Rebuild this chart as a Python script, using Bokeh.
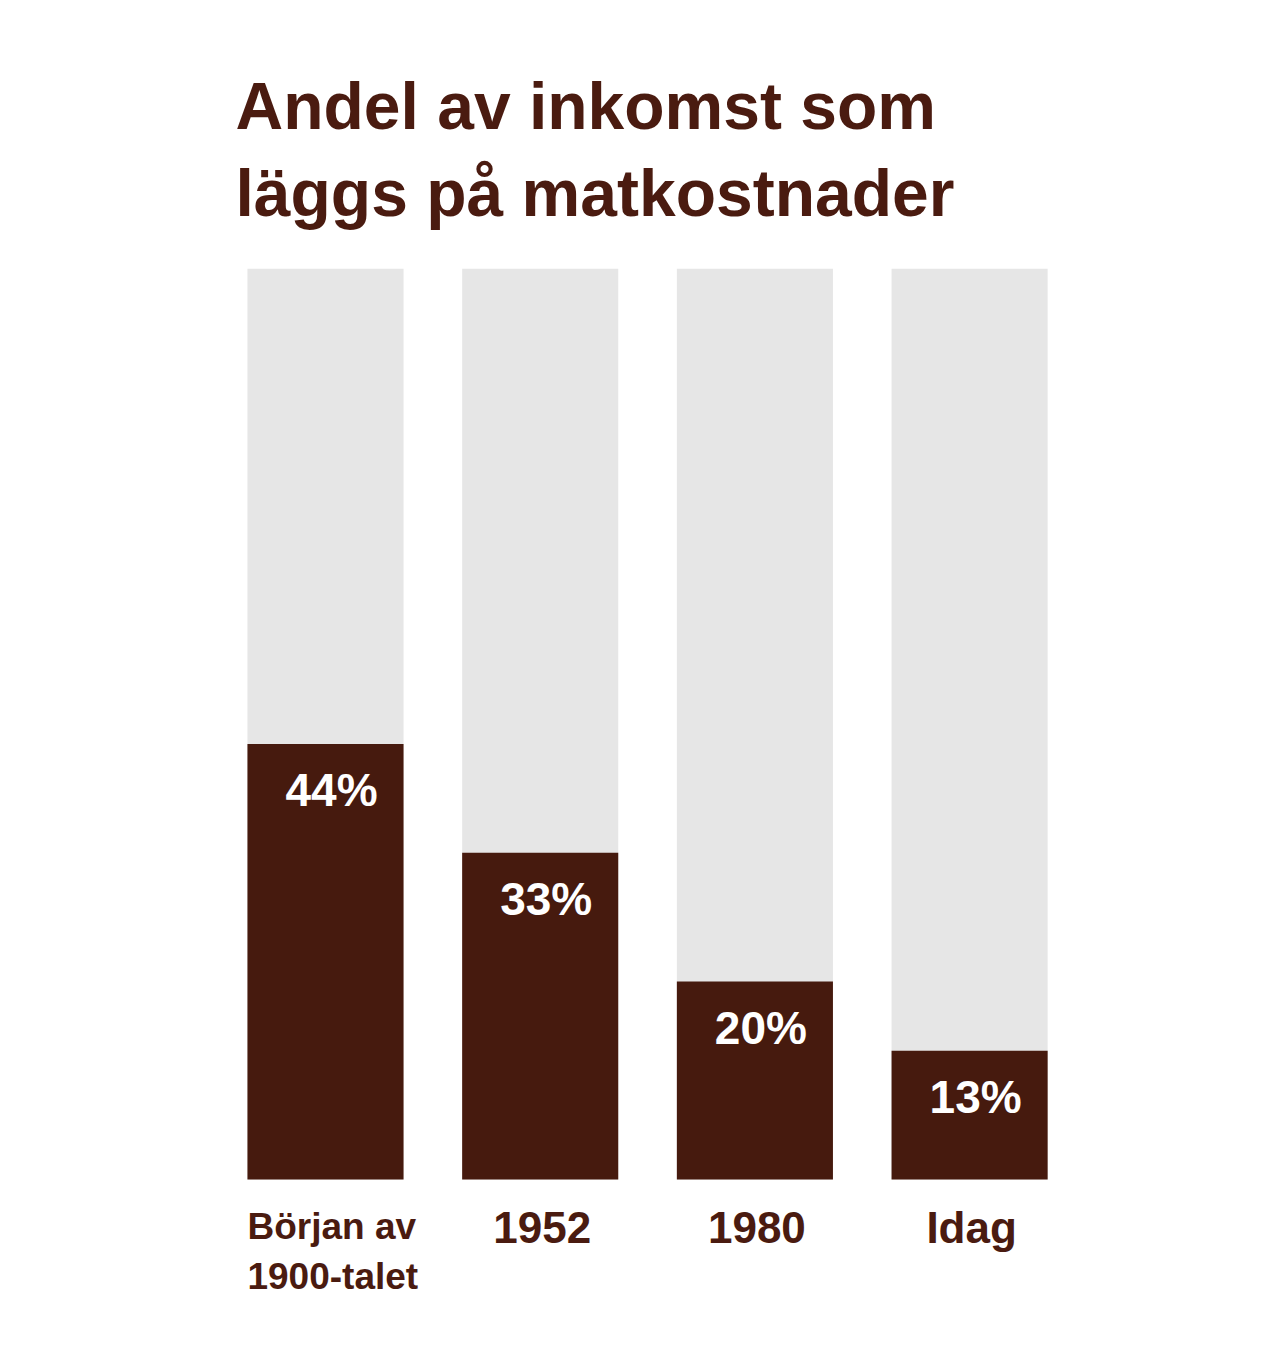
from bokeh.plotting import figure
from bokeh.models import Range1d, ColumnDataSource, Label
from bokeh.core.properties import value
from bokeh.embed import file_html
from bokeh.resources import INLINE

# ---- data ----
categories = ["Början av\n1900-talet", "1952", "1980", "Idag"]
shares = [44, 33, 20, 13]          # percent of income spent on food
totals = [92, 92, 92, 92]          # grey background column height (as drawn)
share_labels = ["44%", "33%", "20%", "13%"]

W, H = 1268, 1340
DARK = "#461a0e"
TEXT = "#4a1b10"
GREY = "#e6e6e6"
FONT = "Liberation Sans"

px_per_x = 214.7
x0_px = 325.0
xs = 0 - x0_px / px_per_x
px_per_y = 9.9
y0_px = H - 1179.0
ys = 0 - y0_px / px_per_y

p = figure(width=W, height=H, output_backend="svg", toolbar_location=None,
           x_range=Range1d(xs, xs + W / px_per_x),
           y_range=Range1d(ys, ys + H / px_per_y),
           min_border=0, outline_line_color=None)
p.axis.visible = False
p.grid.visible = False
p.background_fill_color = "white"
p.border_fill_color = "white"

idx = list(range(len(categories)))
bw = 0.727
src = ColumnDataSource(dict(x=idx, share=shares, total=totals, lab=share_labels,
                            cat=categories))

p.vbar(x="x", top="total", bottom=0, width=bw, source=src,
       fill_color=GREY, line_color=None)
p.vbar(x="x", top="share", bottom=0, width=bw, source=src,
       fill_color=DARK, line_color=None)

p.text(x="x", y="share", text="lab", source=src, x_offset=6, y_offset=46,
       text_align="center", text_baseline="middle",
       text_font=value(FONT), text_font_style="bold",
       text_font_size="46px", text_color="white")

# category labels
first = ColumnDataSource(dict(x=[idx[0] - bw / 2], y=[0], t=[categories[0]]))
rest = ColumnDataSource(dict(x=idx[1:], y=[0] * 3, t=categories[1:]))
p.text(x="x", y="y", text="t", source=first, y_offset=26,
       text_align="left", text_baseline="top", text_line_height=1.22,
       text_font=value(FONT), text_font_style="bold",
       text_font_size="37px", text_color=TEXT)
p.text(x="x", y="y", text="t", source=rest, y_offset=48, x_offset=2,
       text_align="center", text_baseline="alphabetic",
       text_font=value(FONT), text_font_style="bold",
       text_font_size="44px", text_color=TEXT)

for line, base in [("Andel av inkomst som", 131), ("läggs på matkostnader", 218)]:
    p.add_layout(Label(x=235, y=H - base + 26, x_units="screen", y_units="screen",
                       text=line, text_baseline="alphabetic", text_align="left",
                       text_font=FONT, text_font_style="bold",
                       text_font_size="66px", text_color=TEXT))

open("out.html", "w").write(file_html(p, INLINE))
